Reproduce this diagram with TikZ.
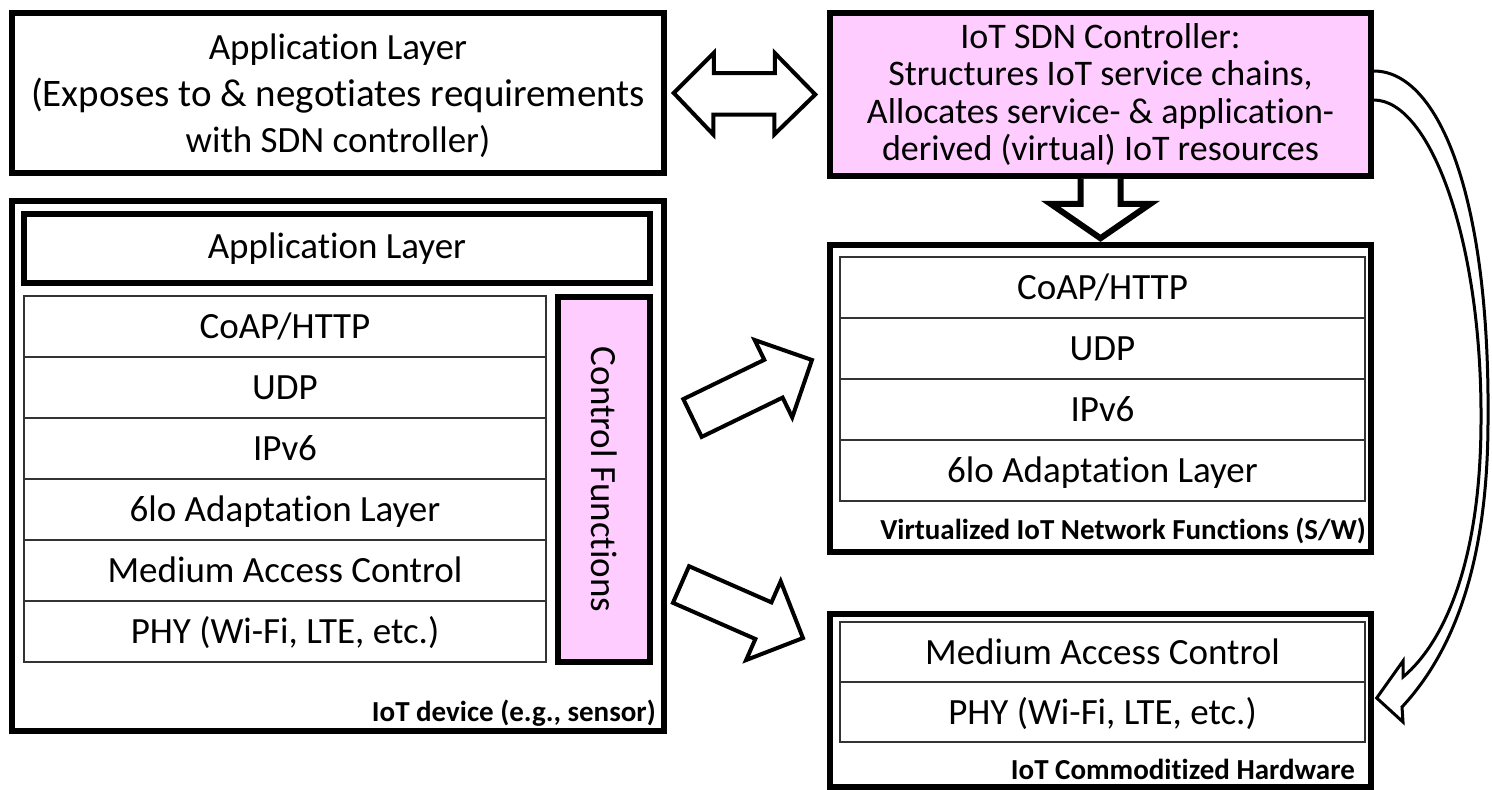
\documentclass[tikz,border=0pt]{standalone}
\usepackage{fontspec}
\setmainfont{Carlito}[Ligatures=NoCommon]
\usetikzlibrary{calc}
\definecolor{ctrlpink}{RGB}{255,204,255}
\newcommand\bigtxt{\fontsize{37}{46.5}\selectfont}
\newcommand\widetxt{\fontsize{39}{46.5}\selectfont}
\newcommand\ctrltxt{\fontsize{36}{37.5}\selectfont}
\newcommand\tagtxt{\fontsize{29}{32}\selectfont\bfseries}
\begin{document}
\begin{tikzpicture}[x=1pt,y=-1pt,
  box/.style={draw, line width=5.5pt, inner sep=0pt, align=center, font=\bigtxt},
  cell/.style={draw=black!80, line width=1.4pt, inner sep=0pt, minimum height=61pt,
    text height=24pt, text depth=0pt, font=\bigtxt},
  tag/.style={font=\tagtxt, anchor=base east, inner sep=0pt},
  blockarrow/.style={draw, line width=4pt, fill=white, line join=miter},
  hollowarrow/.style={draw, line width=3pt, line join=miter}]
\useasboundingbox (0,0) rectangle (1492,790);

% --- upper row: application layer and SDN controller
\node[box, minimum width=652pt, minimum height=160pt] (appTop) at (338,93) {};
\node[align=center, font=\bigtxt, inner sep=0pt] (appTopTxt) at ($(appTop.center)+(0,3)$)
  {Application Layer\\\widetxt(Exposes to \& negotiates requirements\\with SDN controller)};
\node[box, fill=ctrlpink, minimum width=541pt, minimum height=163pt, font=\ctrltxt] (ctrl) at (1100.5,94.5)
  {IoT SDN Controller:\\Structures IoT service chains,\\Allocates service- \& application-\\derived (virtual) IoT resources};

% --- IoT device stack
\node[box, minimum width=652pt, minimum height=530pt] (dev) at (338,466) {};
\node[box, minimum width=626pt, minimum height=69pt] (appIn) at (337,248.5) {Application Layer};
\node[cell, minimum width=522pt] (dCoap) at (285,326.5) {CoAP/HTTP};
\node[cell, minimum width=522pt] (dUdp)  at (285,387.5) {UDP};
\node[cell, minimum width=522pt] (dIp)   at (285,448.5) {IPv6};
\node[cell, minimum width=522pt] (dLo)   at (285,509.5) {6lo Adaptation Layer};
\node[cell, minimum width=522pt] (dMac)  at (285,570.5) {Medium Access Control};
\node[cell, minimum width=522pt] (dPhy)  at (285,631.5) {PHY (Wi-Fi, LTE, etc.)};
\node[box, fill=ctrlpink, rotate=-90, minimum width=365pt, minimum height=92pt] (cfun) at (604,479.5)
  {Control Functions};
\node[tag] (devTag) at (656,721) {IoT device (e.g., sensor)};

% --- virtualized network functions
\node[box, minimum width=541pt, minimum height=307pt] (virt) at (1100.5,398.5) {};
\node[cell, minimum width=525pt] (vCoap) at (1102.5,287.5) {CoAP/HTTP};
\node[cell, minimum width=525pt] (vUdp)  at (1102.5,348.5) {UDP};
\node[cell, minimum width=525pt] (vIp)   at (1102.5,409.5) {IPv6};
\node[cell, minimum width=525pt] (vLo)   at (1102.5,470.5) {6lo Adaptation Layer};
\node[tag] (virtTag) at (1366,539) {Virtualized IoT Network Functions (S/W)};

% --- commoditized hardware
\node[box, minimum width=541pt, minimum height=173pt] (hw) at (1100.5,700.5) {};
\node[cell, minimum width=525pt, minimum height=60pt] (hMac) at (1102.5,652) {Medium Access Control};
\node[cell, minimum width=525pt, minimum height=60pt] (hPhy) at (1102.5,712) {PHY (Wi-Fi, LTE, etc.)};
\node[tag] (hwTag) at (1355,779) {IoT Commoditized Hardware};

% --- two-way arrow between application and controller
\draw[blockarrow] ($(appTop.east)+(7,0)$) -- ++(40,-40) -- ++(0,20) -- ++(61,0) -- ++(0,-20)
  -- ($(ctrl.west)+(-12,0)$) -- ++(-41,40) -- ++(0,-20) -- ++(-61,0) -- ++(0,20) -- cycle;

% --- controller down to the virtualized functions
\draw[blockarrow, line width=6pt] ($(ctrl.south)+(-20,0)$) -- ++(0,25) -- ++(-30,0)
  -- ($(virt.north)+(0,-4)$) -- ($(ctrl.south)+(50,25)$) -- ++(-30,0) -- ++(0,-25);

% --- device to software functions and to hardware
\begin{scope}[shift={(692.5,418)}, rotate=25.9]
  \draw[blockarrow] (0,-21) -- (90,-21) -- (90,-43) -- (132.8,0) -- (90,43) -- (90,21) -- (0,21) -- cycle;
\end{scope}
\begin{scope}[shift={(681,584.5)}, rotate=-23.7]
  \draw[blockarrow] (0,-20) -- (90,-20) -- (90,-43) -- (133.2,0) -- (90,43) -- (90,20) -- (0,20) -- cycle;
\end{scope}

% --- curved arrow from the controller round to the hardware
\coordinate (cTop) at ($(ctrl.east)+(0,-23.5)$);
\coordinate (cBot) at ($(ctrl.east)+(0,5.5)$);
\coordinate (hTip) at ($(hPhy.east)+(11,-14)$);
\draw[hollowarrow] (cTop) .. controls (1440,71) and (1490,200) .. (1488,420)
  .. controls (1488,560) and (1455,650) .. (1402,707)
  -- (1403,722) -- (hTip) -- (1403,661) -- (1403,677)
  .. controls (1447,640) and (1481,555) .. (1481,420)
  .. controls (1482,240) and (1430,100) .. (cBot);
\end{tikzpicture}
\end{document}
